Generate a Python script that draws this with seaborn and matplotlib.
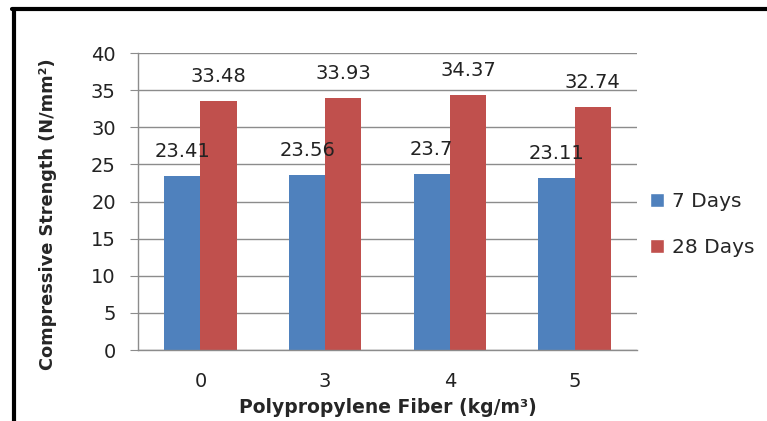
import pandas as pd
import matplotlib
matplotlib.use('Agg')
import matplotlib.pyplot as plt
from matplotlib.patches import Patch
from matplotlib.lines import Line2D
import seaborn as sns

# values
fiber = ['0', '3', '4', '5']
days7 = [23.41, 23.56, 23.7, 23.11]
days28 = [33.48, 33.93, 34.37, 32.74]
series = ['7 Days', '28 Days']
colors = ['#4F81BD', '#C0504D']

df = pd.DataFrame({
    'fiber': fiber * 2,
    'age': [series[0]] * 4 + [series[1]] * 4,
    'strength': days7 + days28,
})

sns.set_style('white')
plt.rcParams['font.family'] = ['DejaVu Sans']

fig = plt.figure(figsize=(7.67, 4.21), dpi=100)
ax = fig.add_axes([0.18, 0.1686, 0.6505, 0.7054])

sns.barplot(data=df, x='fiber', y='strength', hue='age', order=fiber,
            hue_order=series, palette=colors, width=0.58, gap=0,
            saturation=1, errorbar=None, linewidth=0, ax=ax)
ax.get_legend().remove()

ax.set_ylim(0, 40)
ax.set_yticks(range(0, 41, 5))
ax.yaxis.grid(True, color='#8c8c8c', linewidth=1)
ax.set_axisbelow(True)
for side in ['top', 'right']:
    ax.spines[side].set_visible(False)
for side in ['left', 'bottom']:
    ax.spines[side].set_color('#8c8c8c')
    ax.spines[side].set_linewidth(1)
ax.tick_params(axis='y', length=6, color='#8c8c8c', pad=10, labelsize=14,
               left=True, labelcolor='#222222')
ax.tick_params(axis='x', length=0, pad=16, labelsize=14,
               labelcolor='#222222')

for cont, vals in zip(ax.containers, [days7, days28]):
    ax.bar_label(cont, labels=[f'{v:g}' for v in vals], padding=11,
                 fontsize=14, color='#222222')

ax.set_xlabel('Polypropylene Fiber (kg/m³)', fontsize=13.5,
              fontweight='bold', labelpad=5)
ax.set_ylabel('Compressive Strength (N/mm²)', fontsize=12.8,
              fontweight='bold')
ax.yaxis.set_label_coords(-0.162, 0.458)

handles = [Patch(facecolor=c, label=s) for c, s in zip(colors, series)]
fig.legend(handles=handles, loc='center left',
           bbox_to_anchor=(0.834, 0.466), frameon=False, fontsize=14.5,
           handlelength=0.7, handleheight=0.7, handletextpad=0.4,
           labelspacing=1.35, borderpad=0)

# black frame around the figure (only left and top visible in the crop)
fig.add_artist(Line2D([0.018, 0.018], [0, 0.978], transform=fig.transFigure,
                      color='black', linewidth=3))
fig.add_artist(Line2D([0.016, 1], [0.978, 0.978], transform=fig.transFigure,
                      color='black', linewidth=3))

fig.savefig('out.png', dpi=100)
